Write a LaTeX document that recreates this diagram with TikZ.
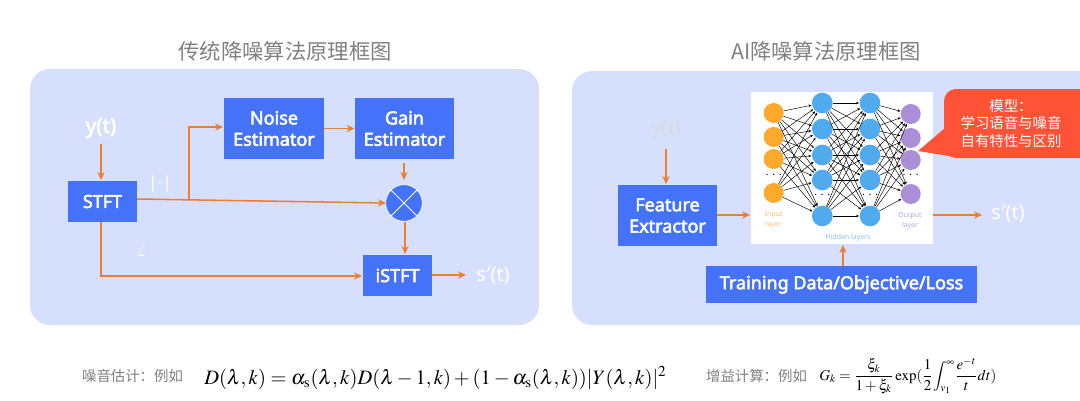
\documentclass[tikz,border=0pt]{standalone}
\usepackage{amsmath}
\usepackage{mathptmx}
\usepackage[no-math]{fontspec}
\setmainfont{Noto Sans}
\newfontfamily\cjk{Noto Sans CJK SC}
\newfontfamily\latinb{Noto Sans}[FakeBold=3]
\usetikzlibrary{arrows.meta,shapes.misc}
\definecolor{panelc}{HTML}{D6E0FD}
\definecolor{boxc}{HTML}{4472F9}
\definecolor{arrc}{HTML}{EE7D31}
\definecolor{calloutc}{HTML}{FF5237}
\definecolor{titlec}{HTML}{808080}
\definecolor{inc}{HTML}{FDA92B}
\definecolor{hidc}{HTML}{4FABEE}
\definecolor{outc}{HTML}{AB8FD6}
\tikzset{
  panel/.style={fill=panelc,draw=none,rounded corners=15pt},
  bluebox/.style={fill=boxc,draw=none,text=white,align=center,inner sep=0pt,font=\latinb\fontsize{13.5}{16}\selectfont},
  flow/.style={draw=arrc,line width=1.15pt,-{Stealth[length=6pt,width=5.5pt]}},
  titletext/.style={text=titlec,inner sep=0pt,font=\fontsize{16}{18}\selectfont\cjk},
  signal/.style={inner sep=0pt,font=\fontsize{15}{18}\selectfont},
  nn/.style={circle,minimum size=15pt,inner sep=0pt,draw=none},
  nnedge/.style={draw=black,line width=0.35pt,-{Stealth[length=2.2pt,width=1.9pt]},shorten >=0.3pt},
  nnlabel/.style={inner sep=0pt,align=center,font=\fontsize{5.2}{7.5}\selectfont},
  nndots/.style={inner sep=0pt,text=black,font=\fontsize{8}{9}\selectfont},
  captext/.style={text=titlec,inner sep=0pt,font=\fontsize{10.8}{13}\selectfont\cjk},
  formula/.style={inner sep=0pt,text=black,anchor=west},
}
\begin{document}
\begin{tikzpicture}[x=0.75pt,y=-0.75pt]
\useasboundingbox (0,0) rectangle (1080,400);
\clip (0,0) rectangle (1080,400);
% panels and titles
\fill[panel] (30,69) rectangle (539,325);
\fill[panel] (572,71) rectangle (1100,325);
\node[titletext] (t1) at (285,51) {传统降噪算法原理框图};
\node[titletext] (t2) at (826,51) {AI降噪算法原理框图};
% left diagram
\node[bluebox,minimum width=51.75pt,minimum height=30.75pt] (stft) at (102.5,201.5) {STFT};
\node[bluebox,minimum width=75pt,minimum height=46pt] (noise) at (274,128.5) {Noise\\Estimator};
\node[bluebox,minimum width=74.5pt,minimum height=46pt] (gain) at (404.5,128.5) {Gain\\Estimator};
\node[bluebox,minimum width=51.75pt,minimum height=30.75pt] (istft) at (397.5,275.5) {iSTFT};
\node[circle,fill=boxc,draw=white,line width=0.5pt,minimum size=27.5pt,inner sep=0pt] (mult) at (404,203) {};
\draw[white,line width=0.7pt] (mult.45) -- (mult.225) (mult.135) -- (mult.315);
\node[inner sep=0pt,text=white,font=\latinb\fontsize{15.5}{18}\selectfont] (yl) at (101,128) {y(t)};
\node[signal,text=white] (sl) at (493,276) {s′(t)};
\node[inner sep=0pt,text=white,font=\fontsize{13}{15}\selectfont] (mag) at (160,184) {|·|};
\node[inner sep=0pt,text=white,font=\fontsize{14}{15}\selectfont] (ang) at (142,249) {$\angle$};
\coordinate (ylo) at (101,144);
\coordinate (stin) at (101,180);
\coordinate (stout) at (137,199);
\coordinate (branch) at (189,199.3);
\coordinate (nin) at (223,127);
\coordinate (up) at (189,127);
\coordinate (mulin) at (386,203);
\coordinate (gout) at (404,163);
\coordinate (gin) at (404,180);
\coordinate (mout) at (405,222);
\coordinate (iin) at (405,254);
\coordinate (sdown) at (101,222);
\coordinate (corner) at (101,276);
\coordinate (iw) at (362,276);
\coordinate (ie) at (432,275);
\coordinate (ioutend) at (466,275);
\draw[flow] (ylo) -- (stin);
\draw[flow] (stout) -- (mulin);
\draw[flow] (branch) -- (up) -- (nin);
\draw[flow] (noise.east) -- (gain.west);
\draw[flow] (gout) -- (gin);
\draw[flow] (mout) -- (iin);
\draw[flow] (sdown) -- (corner) -- (iw);
\draw[flow] (ie) -- (ioutend);
% right diagram
\node[bluebox,minimum width=74.5pt,minimum height=45.75pt] (fe) at (667.5,215.5) {Feature\\Extractor};
\node[fill=white,draw=none,minimum width=136.5pt,minimum height=114pt,inner sep=0pt] (img) at (842,168) {};
\node[bluebox,minimum width=203pt,minimum height=27.75pt] (train) at (841.5,284.5) {Training Data/Objective/Loss};
\node[signal,text=white!72!titlec] (yr) at (666,130) {y(t)};
\node[signal,text=white] (sr) at (1008,214) {s′(t)};
\coordinate (yrlo) at (666,149);
\coordinate (fein) at (666,184);
\coordinate (soutend) at (982,215);
\coordinate (imgin) at (750,215);
\coordinate (fee) at (717,215);
\coordinate (imge) at (933,215);
\coordinate (trainup) at (843,266);
\coordinate (imgb) at (843,245);
\draw[flow] (yrlo) -- (fein);
\draw[flow] (fee) -- (imgin);
\draw[flow] (imge) -- (soutend);
\draw[flow] (trainup) -- (imgb);
% network
\foreach \n/\y in {1/113,2/137,3/159,4/193}{
  \node[nn,fill=inc] (a\n) at (773.7,\y) {};
  \node[nn,fill=outc] (d\n) at (910.7,\y+1) {};
}
\foreach \n/\y in {1/103,2/129,3/155,4/180,5/216}{
  \node[nn,fill=hidc,minimum size=15.5pt] (b\n) at (822.3,\y) {};
  \node[nn,fill=hidc,minimum size=15.5pt] (c\n) at (870,\y) {};
}
\foreach \i in {1,2,3,4}\foreach \j in {1,2,3,4,5}{
  \draw[nnedge] (a\i) -- (b\j);
  \draw[nnedge] (c\j) -- (d\i);
}
\foreach \i in {1,2,3,4,5}\foreach \j in {1,2,3,4,5}{
  \draw[nnedge] (b\i) -- (c\j);
}
\node[nndots] (da) at (773.7,175) {. . .};
\node[nndots] (db) at (822.3,195) {. . .};
\node[nndots] (dc) at (870,195) {. . .};
\node[nndots] (dd) at (910.7,175) {. . .};
\node[nnlabel,text=inc!70] (la) at (773.7,220) {Input\\layer};
\node[nnlabel,text=hidc!70] (lb) at (848,238) {Hidden layers};
\node[nnlabel,text=outc!80] (lc) at (910,221) {Output\\layer};
% callout
\fill[calloutc,rounded corners=9pt] (944,89) rectangle (1100,158);
\fill[calloutc] (945,128) -- (918,151) -- (958,157.5) -- cycle;
\node[inner sep=0pt,text=white,align=center,font=\fontsize{10.8}{13.1}\selectfont\cjk] (ct) at (1011,123.5) {模型：\\学习语音与噪音\\自有特性与区别};
% formulas
\node[captext] (c1) at (132.5,376) {噪音估计：例如};
\node[formula,font=\fontsize{15.35}{18}\selectfont] (f1) at (204,378) {$D(\lambda,k)=\alpha_{\rm s}(\lambda,k)D(\lambda-1,k)+(1-\alpha_{\rm s}(\lambda,k))|Y(\lambda,k)|^2$};
\node[captext] (c2) at (756.5,376) {增益计算：例如};
\node[formula,font=\fontsize{11.2}{13}\selectfont] (f2) at (819,376) {$G_k=\dfrac{\xi_k}{1+\xi_k}\exp(\dfrac{1}{2}{\displaystyle\int_{v_1}^{\infty}}\dfrac{e^{-t}}{t}dt)$};
\end{tikzpicture}
\end{document}
